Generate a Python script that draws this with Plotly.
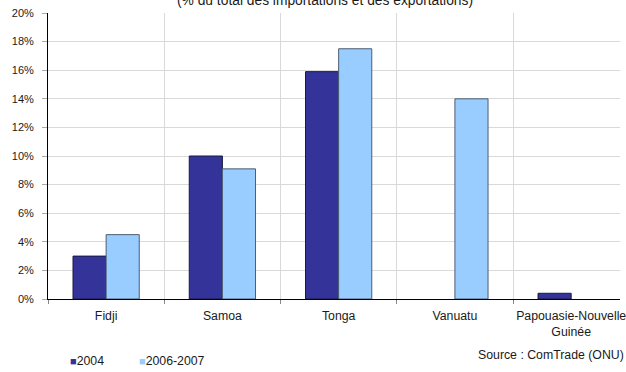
import plotly.graph_objects as go

categories = ["Fidji", "Samoa", "Tonga", "Vanuatu", "Papouasie-Nouvelle<br>Guinée"]
vals_2004 = [3.0, 10.0, 15.9, None, 0.4]
vals_2006 = [4.5, 9.1, 17.5, 14.0, None]
y_ticks = [0, 2, 4, 6, 8, 10, 12, 14, 16, 18, 20]
y_tick_labels = [f"{v}%" for v in y_ticks]
series_names = ["2004", "2006-2007"]
series_colors = ["#333399", "#99ccff"]
series_lines = ["#1a1a40", "#4d5d73"]

FAM = "Liberation Sans, Arial, sans-serif"
font = dict(family=FAM, size=11, color="#1a1a1a")
xfont = dict(family=FAM, size=12.3, color="#1a1a1a")

fig = go.Figure()
for name, vals, c, lc in zip(series_names, [vals_2004, vals_2006], series_colors, series_lines):
    fig.add_trace(go.Bar(x=categories, y=vals, name=name, showlegend=False,
                         marker=dict(color=c, line=dict(color=lc, width=1))))

annotations = [
    dict(text="(% du total des importations et des exportations)", x=0.484, xref="paper",
         y=1, yref="paper", yanchor="middle", yshift=13, showarrow=False,
         font=dict(family=FAM, size=13.8, color="#1a1a1a")),
    dict(text="Source : ComTrade (ONU)", x=1, xref="paper", xanchor="right", xshift=6,
         y=0, yref="paper", yanchor="middle", yshift=-56, showarrow=False, font=xfont),
]
# legend drawn as text (small square swatch followed by label)
legend_x = [68, 138]
plot_w = 626 - 48
for name, c, lx in zip(series_names, series_colors, legend_x):
    annotations.append(dict(
        text=f"<span style='color:{c}; font-size:11px'>■</span>{name}",
        x=(lx - 48) / plot_w, xref="paper", xanchor="left",
        y=0, yref="paper", yanchor="middle", yshift=-62, showarrow=False, font=xfont))

fig.update_layout(
    width=626, height=372,
    margin=dict(l=48, r=0, t=13, b=73),
    paper_bgcolor="white", plot_bgcolor="white",
    font=font,
    barmode="group", bargap=0.43, bargroupgap=0,
    showlegend=False,
    xaxis=dict(range=[-0.5, 4.42], tickson="boundaries", showgrid=True,
               gridcolor="#d9d9d9", gridwidth=1, ticks="outside", ticklen=4,
               tickcolor="#888", showline=True, linecolor="black", linewidth=1,
               tickfont=xfont, zeroline=False, ticklabelstandoff=5),
    yaxis=dict(range=[0, 20], tickvals=y_ticks, ticktext=y_tick_labels,
               showgrid=True, gridcolor="#d9d9d9", gridwidth=1,
               ticks="outside", ticklen=5, tickcolor="#aaa",
               showline=True, linecolor="black", linewidth=1,
               tickfont=font, zeroline=False, ticklabelstandoff=6),
    annotations=annotations,
)

fig.write_html("out.html")
